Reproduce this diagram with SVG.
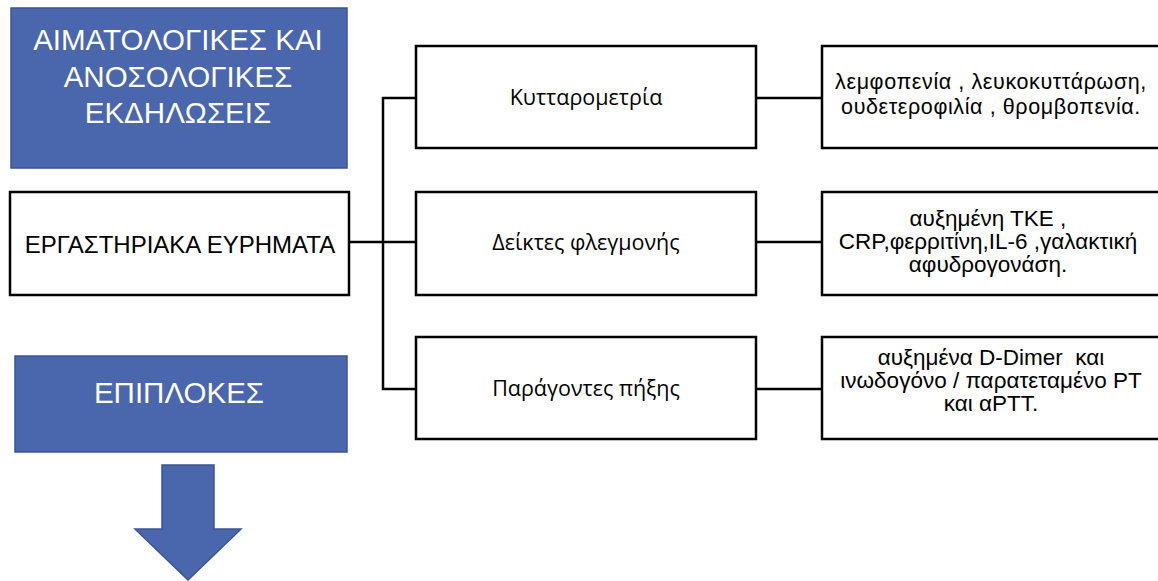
<svg xmlns="http://www.w3.org/2000/svg" width="1158" height="581" viewBox="0 0 1158 581">
  <style>
    .blue { fill: #4a66ac; stroke: #3a5592; stroke-width: 1.5; }
    .box { fill: #ffffff; stroke: #000000; stroke-width: 2.5; }
    .wire { fill: none; stroke: #000000; stroke-width: 2.5; }
    .head { font-family: "Liberation Sans", Arial, sans-serif; fill: #ffffff; font-size: 29.5px; text-anchor: middle; }
    .lab { font-family: "Liberation Sans", Arial, sans-serif; fill: #000000; font-size: 24px; text-anchor: middle; }
    .mid { font-family: "Open Sans", "Noto Sans", sans-serif; fill: #000000; font-size: 21.5px; text-anchor: middle; }
    .det { font-family: "Liberation Sans", Arial, sans-serif; fill: #000000; font-size: 22.5px; text-anchor: middle; }
    .tight { font-size: 21.5px; letter-spacing: 0.6px; }
  </style>

  <!-- title block -->
  <g id="title">
    <rect class="blue" x="11" y="8" width="336" height="160"/>
    <text class="head" x="178" y="50">ΑΙΜΑΤΟΛΟΓΙΚΕΣ ΚΑΙ</text>
    <text class="head" x="178" y="87">ΑΝΟΣΟΛΟΓΙΚΕΣ</text>
    <text class="head" x="178" y="123">ΕΚΔΗΛΩΣΕΙΣ</text>
  </g>

  <!-- connectors -->
  <g id="connectors">
    <line class="wire" x1="349" y1="242" x2="416" y2="242"/>
    <polyline class="wire" points="416,98 383,98 383,389 416,389"/>
    <line class="wire" x1="756" y1="98" x2="822" y2="98"/>
    <line class="wire" x1="756" y1="242" x2="822" y2="242"/>
    <line class="wire" x1="756" y1="389" x2="822" y2="389"/>
  </g>

  <g id="lab-findings">
    <rect class="box" x="10" y="192" width="339" height="103"/>
    <text class="lab" x="180" y="253">ΕΡΓΑΣΤΗΡΙΑΚΑ ΕΥΡΗΜΑΤΑ</text>
  </g>

  <g id="cytometry">
    <rect class="box" x="416" y="46" width="340" height="102"/>
    <text class="mid" x="586" y="105">Κυτταρομετρία</text>
  </g>
  <g id="inflammation">
    <rect class="box" x="416" y="192" width="340" height="103"/>
    <text class="mid" x="586" y="250">Δείκτες φλεγμονής</text>
  </g>
  <g id="coagulation">
    <rect class="box" x="416" y="337" width="340" height="102"/>
    <text class="mid" x="586" y="396">Παράγοντες πήξης</text>
  </g>

  <g id="cytometry-detail">
    <rect class="box" x="822" y="46" width="345" height="102"/>
    <text class="det tight" x="991" y="89">λεμφοπενία , λευκοκυττάρωση,</text>
    <text class="det tight" x="991" y="114">ουδετεροφιλία , θρομβοπενία.</text>
  </g>
  <g id="inflammation-detail">
    <rect class="box" x="822" y="192" width="345" height="103"/>
    <text class="det" x="988" y="226">αυξημένη ΤΚΕ ,</text>
    <text class="det" x="988" y="249">CRP,φερριτίνη,IL-6 ,γαλακτική</text>
    <text class="det" x="988" y="272">αφυδρογονάση.</text>
  </g>
  <g id="coagulation-detail">
    <rect class="box" x="822" y="337" width="345" height="102"/>
    <text class="det" x="991" y="365" xml:space="preserve">αυξημένα D-Dimer  και</text>
    <text class="det" x="991" y="388">ινωδογόνο / παρατεταμένο PT</text>
    <text class="det" x="991" y="411">και αPTT.</text>
  </g>

  <g id="complications">
    <rect class="blue" x="15" y="356" width="332" height="96"/>
    <text class="head" x="179" y="403">ΕΠΙΠΛΟΚΕΣ</text>
  </g>

  <g id="down-arrow">
    <polygon class="blue" points="162,465 214,465 214,529 241,529 188,580 135,529 162,529"/>
  </g>
</svg>
